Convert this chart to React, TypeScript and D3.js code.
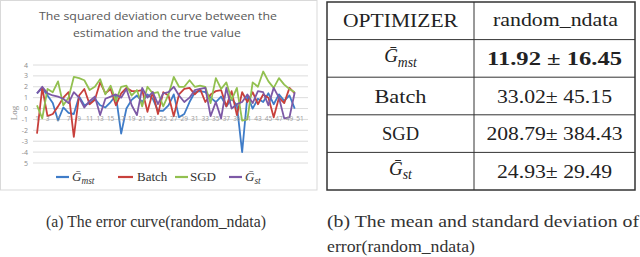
import React from 'react';
import * as d3 from 'd3';

// values (log of squared deviation), runs 1..50
const gMst = [1.4, 1.9, 1.2, 0.5, -1.1, 0.1, -0.4, -0.5, 1.1, 0.3, 0.5, 0.9, 0.3, 0.1, 0.6, 1.2, -2.3, 0.0, 0.8, 1.2,
  0.6, 1.3, 0.9, -0.2, -0.2, 0.3, 1.3, -0.8, -0.5, 0.6, 1.5, 1.6, 1.5, 1.0, 0.6, 1.1, 0.2, 0.9, 0.3, -4.0,
  1.2, 0.0, 0.9, 0.6, 1.4, 0.4, 1.3, 0.7, 1.2, 0.0];
const batch = [-2.3, 1.9, -0.7, -0.5, 0.2, 1.0, 1.5, -2.6, 1.2, 1.8, 0.4, 0.8, 2.4, 1.4, 1.8, 0.3, 1.4, 1.9, 1.6, 1.6,
  1.7, -0.3, 1.5, -0.5, 1.5, 1.2, -0.7, 1.3, 1.8, 1.9, 1.3, 1.8, 0.6, 1.3, 1.6, 1.7, 0.2, 1.6, -0.6, 1.5,
  0.6, 1.5, 0.4, 1.3, 1.0, -0.8, 1.0, 0.5, 1.9, 1.4];
const sgd = [0.3, -0.9, 1.8, 1.5, 2.5, 0.3, 1.0, 2.9, 2.8, 2.6, 1.7, 2.0, 2.7, 1.3, 2.1, 0.7, 2.0, 2.1, 1.2, 1.7,
  0.2, 2.0, 1.4, 1.5, 0.2, 1.3, 2.9, 2.0, 2.0, 2.6, 2.0, 2.1, 2.0, 0.5, 2.8, 1.8, 2.4, 0.8, 1.9, -1.1,
  -1.0, 2.4, 2.0, 3.4, 2.5, 1.9, 2.8, 2.2, 1.8, 1.5];
const gSt = [1.4, 2.0, 1.4, 1.2, 1.1, 0.9, 0.5, 1.5, 1.0, 0.1, 0.7, 1.1, -0.6, 0.9, 1.1, 1.3, 1.0, 1.8, 0.3, -0.6,
  1.9, 1.0, 1.5, 0.4, 1.4, 1.5, 2.0, 1.2, 0.6, 1.0, 1.7, 1.8, 1.9, -0.7, 0.6, -0.9, 1.9, 0.0, 0.4, 0.6,
  1.3, 0.5, 1.6, 1.5, 0.3, 1.9, 1.0, -0.9, -0.8, 1.5];

const yTicks = [4, 3, 2, 1, 0, -1, -2, -3, -4, -5];
const yTickLabels = ['4', '3', '2', '1', '0', '-1', '-2', '-3', '-4', '5'];
const xTicks = d3.range(1, 52, 2);

const seriesNames = ['mst', 'Batch', 'SGD', 'st'];
const seriesColors = ['#3f7cc8', '#c8403c', '#92c050', '#7d59a6'];
const seriesData = [gMst, batch, sgd, gSt];

const tableHeader = ['OPTIMIZER', 'random_ndata'];
const tableRows = ['mst', 'Batch', 'SGD', 'st'];
const tableValues = ['11.92 \u00b1 16.45', '33.02\u00b1 45.15', '208.79\u00b1 384.43', '24.93\u00b1 29.49'];

const serif = { fontFamily: "'Liberation Serif', 'Times New Roman', serif" };
const sans = { fontFamily: "'Open Sans', 'Noto Sans', sans-serif" };

const GBar = ({ sub, size }: { sub: string; size: number }) => (
  <>
    <tspan fontStyle="italic">{'\u1E20'}</tspan>
    <tspan fontStyle="italic" fontSize={size * 0.72} dy={size * 0.25}>{sub}</tspan>
  </>
);

const App = () => {
  const x = d3.scaleLinear().domain([1, 51]).range([37, 300]);
  const y = d3.scaleLinear().domain([-5, 4]).range([163, 65]);
  const line = d3.line<number>().x((_, i) => x(i + 1)).y(d => y(d));

  // legend slots
  const legend = [
    { x1: 56, x2: 69, tx: 72 },
    { x1: 118, x2: 133, tx: 137 },
    { x1: 175, x2: 188, tx: 190 },
    { x1: 229, x2: 242, tx: 245 },
  ];

  const tX = d3.scaleLinear().domain([0, 1]).range([327, 635]);
  const colDiv = 474;
  const rowY = d3.scaleLinear().domain([0, 5]).range([2, 190]);
  const valueWidths = [135, 115, 136, 115];
  const labelWidths = [49, 52, 37, 40];

  return (
    <svg width={640} height={257} style={{ position: 'absolute', left: 0, top: 0, background: '#fff' }}>
      {/* left chart panel */}
      <rect x={0.5} y={0.5} width={316.5} height={189.5} fill="#fff" stroke="#d9d9d9" />
      <text x={158} y={20} textAnchor="middle" style={sans} fontSize={11.5} fill="#595959"
        textLength={238} lengthAdjust="spacingAndGlyphs">The squared deviation curve between the</text>
      <text x={157} y={37} textAnchor="middle" style={sans} fontSize={11.5} fill="#595959"
        textLength={168} lengthAdjust="spacingAndGlyphs">estimation and the true value</text>

      {yTicks.map((t, i) => (
        <g key={t}>
          <line x1={33} x2={308} y1={y(t)} y2={y(t)} stroke="#dcdcdc" strokeWidth={1} />
          <text x={28} y={y(t) + 2.5} textAnchor="end" style={sans} fontSize={7} fill="#8c8c8c">{yTickLabels[i]}</text>
        </g>
      ))}
      <text transform="translate(17,113) rotate(-90)" textAnchor="middle" style={serif} fontSize={9} fill="#8c8c8c">Log</text>

      {seriesData.map((d, k) => (
        <path key={k} d={line(d) || ''} fill="none" stroke={seriesColors[k]} strokeWidth={1.8} strokeLinejoin="round" />
      ))}

      {xTicks.map(t => (
        <text key={t} x={x(t)} y={121} textAnchor="middle" style={sans} fontSize={6.5} fill="#9a9a9a">{t}</text>
      ))}

      {legend.map((l, k) => (
        <g key={k}>
          <line x1={l.x1} x2={l.x2} y1={177} y2={177} stroke={seriesColors[k]} strokeWidth={2.2} />
          <text x={l.tx} y={181} style={serif} fontSize={13} fill="#333">
            {k === 0 || k === 3 ? <GBar sub={seriesNames[k]} size={13} /> : seriesNames[k]}
          </text>
        </g>
      ))}

      {/* right table */}
      <rect x={tX(0)} y={rowY(0)} width={tX(1) - tX(0)} height={rowY(5) - rowY(0)} fill="none" stroke="#333" strokeWidth={1.5} />
      {d3.range(1, 5).map(r => (
        <line key={r} x1={tX(0)} x2={tX(1)} y1={rowY(r)} y2={rowY(r)} stroke="#333" strokeWidth={1} />
      ))}
      <line x1={colDiv} x2={colDiv} y1={rowY(0)} y2={rowY(5)} stroke="#333" strokeWidth={1} />

      <text x={(tX(0) + colDiv) / 2} y={(rowY(0) + rowY(1)) / 2 + 6.5} textAnchor="middle" style={serif} fontSize={19}
        fill="#222" textLength={115} lengthAdjust="spacingAndGlyphs">{tableHeader[0]}</text>
      <text x={(colDiv + tX(1)) / 2 + 1} y={(rowY(0) + rowY(1)) / 2 + 5} textAnchor="middle" style={serif} fontSize={19}
        fill="#222" textLength={125} lengthAdjust="spacingAndGlyphs">{tableHeader[1]}</text>

      {tableRows.map((r, i) => {
        const cy = (rowY(i + 1) + rowY(i + 2)) / 2 + 6.5;
        const isG = r === 'mst' || r === 'st';
        return (
          <g key={r}>
            <text x={(tX(0) + colDiv) / 2} y={isG ? cy - 3 : cy} textAnchor="middle" style={serif} fontSize={19} fill="#222"
              textLength={isG ? undefined : labelWidths[i]} lengthAdjust="spacingAndGlyphs">
              {isG ? <GBar sub={r} size={19} /> : r}
            </text>
            <text x={(colDiv + tX(1)) / 2} y={cy} textAnchor="middle" style={serif} fontSize={19}
              fontWeight={i === 0 ? 'bold' : 'normal'} fill="#222"
              textLength={valueWidths[i]} lengthAdjust="spacingAndGlyphs">{tableValues[i]}</text>
          </g>
        );
      })}

      {/* captions */}
      <text x={46} y={227} style={serif} fontSize={16.5} fill="#333" textLength={220} lengthAdjust="spacingAndGlyphs">
        (a) The error curve(random_ndata)</text>
      <text x={327} y={227} style={serif} fontSize={16.5} fill="#333" textLength={312} lengthAdjust="spacingAndGlyphs">
        (b) The mean and standard deviation of</text>
      <text x={327} y={252} style={serif} fontSize={16.5} fill="#333" textLength={148} lengthAdjust="spacingAndGlyphs">
        error(random_ndata)</text>
    </svg>
  );
};

export default App;
